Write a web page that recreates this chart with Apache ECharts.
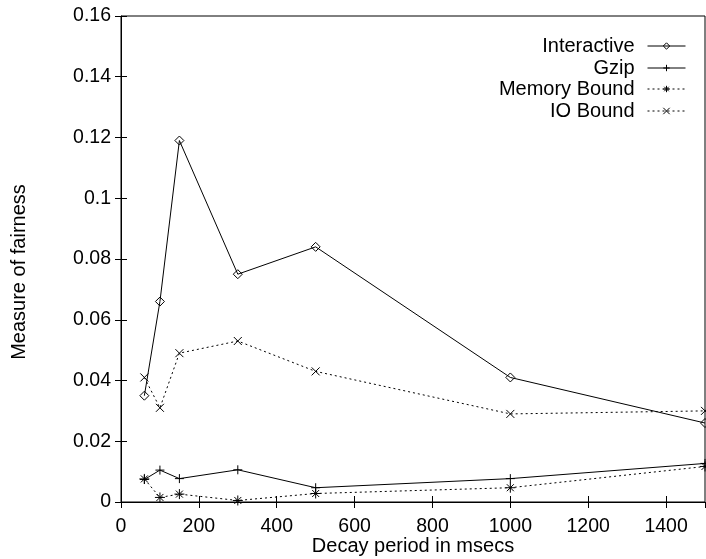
<!DOCTYPE html>
<html>
<head>
<meta charset="utf-8">
<script src="https://cdn.jsdelivr.net/npm/echarts@6/dist/echarts.min.js"></script>
<style>
  html, body { margin: 0; padding: 0; background: #fff; }
  #chart { width: 706px; height: 559px; }
</style>
</head>
<body>
<div id="chart"></div>
<script>
// Decay period (msecs) on the x axis
const decayPeriods = [60, 100, 150, 300, 500, 1000, 1500];

// Fairness measure for each workload
const interactive = [0.035, 0.066, 0.119, 0.075, 0.084, 0.041, 0.026];
const gzip        = [0.0074, 0.0105, 0.0077, 0.0106, 0.0047, 0.0077, 0.0127];
const memoryBound = [0.0076, 0.0015, 0.0026, 0.0005, 0.0028, 0.0047, 0.0117];
const ioBound     = [0.041, 0.031, 0.049, 0.053, 0.043, 0.029, 0.030];

const seriesNames = ['Interactive', 'Gzip', 'Memory Bound', 'IO Bound'];
const seriesValues = [interactive, gzip, memoryBound, ioBound];

const FONT = 'Liberation Sans, Arial, Helvetica, sans-serif';

// gnuplot-style point markers drawn as stroked paths
const markers = [
  'path://M5,0L10,5L5,10L0,5Z',
  'path://M0,5L10,5M5,0L5,10',
  'path://M0,5L10,5M5,0L5,10M1.5,1.5L8.5,8.5M8.5,1.5L1.5,8.5',
  'path://M0,0L10,10M10,0L0,10'
];
const markerSizes = [9, 9, 10, 8];
const lineTypes = ['solid', 'solid', [2, 3], [2, 3]];

const series = seriesNames.map((name, i) => ({
  name: name,
  type: 'line',
  data: decayPeriods.map((x, j) => [x, seriesValues[i][j]]),
  symbol: markers[i],
  symbolSize: markerSizes[i],
  showAllSymbol: true,
  color: '#000',
  lineStyle: { color: '#000', width: 1, type: lineTypes[i] },
  itemStyle: { color: 'transparent', borderColor: '#000', borderWidth: 1 },
  emphasis: { disabled: true },
  animation: false
}));

// one legend block per entry so the keys line up on the right
const legendRowTops = [36, 58, 79, 101];
const legends = seriesNames.map((name, i) => ({
  data: [name],
  orient: 'vertical',
  right: 20,
  top: legendRowTops[i],
  padding: 0,
  align: 'right',
  itemWidth: 38,
  itemHeight: 8,
  selectedMode: false,
  itemStyle: { borderWidth: 1 },
  lineStyle: { width: 1 },
  textStyle: { fontFamily: FONT, fontSize: 20, color: '#000', padding: [0, 8, 0, 0] }
}));

const xTickFmt = v => String(v);
const yTickFmt = v => String(+v.toFixed(2));

const chart = echarts.init(document.getElementById('chart'), null, { renderer: 'canvas' });
chart.setOption({
  backgroundColor: '#fff',
  animation: false,
  legend: legends,
  grid: {
    left: 121, right: 1, top: 16, bottom: 57,
    outerBoundsMode: 'none', containLabel: false,
    show: true, borderColor: '#000', borderWidth: 1, backgroundColor: 'transparent'
  },
  xAxis: [
    {
      type: 'value', min: 0, max: 1500, interval: 200,
      name: 'Decay period in msecs', nameLocation: 'middle', nameGap: 34, nameMoveOverlap: false,
      nameTextStyle: { fontFamily: FONT, fontSize: 20, color: '#000' },
      axisLine: { show: true, lineStyle: { color: '#000' } },
      axisTick: { show: true, inside: true, length: 6, lineStyle: { color: '#000' } },
      axisLabel: { fontFamily: FONT, fontSize: 19.5, color: '#000', margin: 15, showMaxLabel: false, formatter: xTickFmt },
      splitLine: { show: false }
    },
    {
      type: 'value', position: 'top', min: 0, max: 1500, interval: 200,
      axisLine: { show: false },
      axisTick: { show: true, inside: true, length: 6, lineStyle: { color: '#000' } },
      axisLabel: { show: false },
      splitLine: { show: false }
    }
  ],
  yAxis: [
    {
      type: 'value', min: 0, max: 0.16, interval: 0.02,
      name: 'Measure of fairness', nameLocation: 'middle', nameGap: 92, nameMoveOverlap: false,
      nameTextStyle: { fontFamily: FONT, fontSize: 20, color: '#000', padding: [0, 26, 0, 0] },
      axisLine: { show: true, lineStyle: { color: '#000' } },
      axisTick: { show: true, inside: true, length: 6, lineStyle: { color: '#000' } },
      axisLabel: { fontFamily: FONT, fontSize: 19.5, color: '#000', margin: 10, formatter: yTickFmt },
      splitLine: { show: false }
    },
    {
      type: 'value', position: 'right', min: 0, max: 0.16, interval: 0.02,
      axisLine: { show: false },
      axisTick: { show: true, inside: true, length: 6, lineStyle: { color: '#000' } },
      axisLabel: { show: false },
      splitLine: { show: false }
    }
  ],
  series: series
});
</script>
</body>
</html>
